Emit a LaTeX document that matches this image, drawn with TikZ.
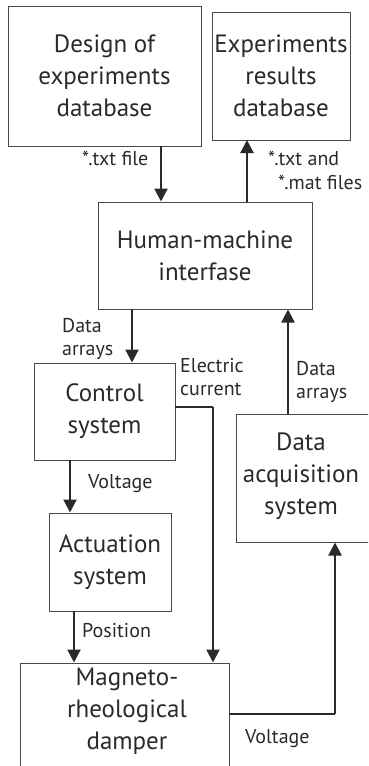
\documentclass[tikz,border=0pt]{standalone}
\usepackage{fontspec}
\setmainfont{PT Sans}
\usetikzlibrary{arrows.meta}
\definecolor{ink}{HTML}{2A2A2A}
\definecolor{edge}{HTML}{4A4A4A}
\begin{document}
\begin{tikzpicture}[x=1pt,y=-1pt,
  box/.style={draw=edge,line width=1pt,inner sep=0pt,text=ink,align=center,
     font=\fontsize{25}{32}\selectfont},
  boxtext/.style={inner sep=0pt,text=ink,align=center,font=\fontsize{25}{32}\selectfont},
  lab/.style={inner sep=0pt,text=ink,align=left,font=\fontsize{20}{23.5}\selectfont},
  arr/.style={draw=ink,line width=2.2pt,-{Triangle[width=13pt,length=13pt]}},
  wire/.style={draw=ink,line width=2.2pt}]
\useasboundingbox (0,0) rectangle (368,766);
\clip (0,0) rectangle (368,766);
% boxes
\node[box,minimum width=193pt,minimum height=140pt] (des) at (104.5,76) {Design of\\experiments\\database};
\node[box,minimum width=138pt,minimum height=128pt] (res) at (281,76) {Experiments\\results\\database};
\node[box,minimum width=214pt,minimum height=107pt] (hmi) at (205,255.5) {Human-machine\\interfase};
\node[box,minimum width=141pt,minimum height=97pt] (ctrl) at (104.5,411.5) {Control\\system};
\node[box,minimum width=160pt,minimum height=128pt] (daq) at (316,478) {};
\node[boxtext] (daqt) at (301,476) {Data\\acquisition\\system};
\node[box,minimum width=122pt,minimum height=98pt] (act) at (110,562) {Actuation\\system};
\node[box,minimum width=209pt,minimum height=140pt] (dmp) at (124.5,733) {};
\node[boxtext] (dmpt) at (127,711) {Magneto-\\rheological\\damper};
% connector anchors
\coordinate (c1) at (161,146);
\coordinate (c2) at (247,140);
\coordinate (c3) at (132,309);
\coordinate (c4) at (288,414);
\coordinate (c5) at (70,460);
\coordinate (c6) at (74,611);
\coordinate (e1) at (175,407);
\coordinate (e2) at (213,407);
\coordinate (v1) at (229,714);
\coordinate (v2) at (335,714);
% connectors
\draw[arr] (c1) -- (c1 |- hmi.north);
\draw[arr] (c2 |- hmi.north) -- (c2);
\draw[arr] (c3) -- (c3 |- ctrl.north);
\draw[arr] (c4) -- (c4 |- hmi.south);
\draw[arr] (c5) -- (c5 |- act.north);
\draw[arr] (c6) -- (c6 |- dmp.north);
\draw[wire] (e1) -- (e2);
\draw[arr] (e2) -- (e2 |- dmp.north);
\draw[wire] (v1) -- (v2);
\draw[arr] (v2) -- (v2 |- daq.south);
% labels
\node[lab,anchor=base west] (l1) at (82,165) {*.txt file};
\node[lab,anchor=base west] (l2a) at (268,165) {*.txt and};
\node[lab,anchor=base west] (l2b) at (278,189) {*.mat files};
\node[lab,anchor=base west] (l3a) at (62,332) {Data};
\node[lab,anchor=base west] (l3b) at (62,355) {arrays};
\node[lab,anchor=base west] (l4a) at (180,372) {Electric};
\node[lab,anchor=base west] (l4b) at (180,395) {current};
\node[lab,anchor=base west] (l5a) at (296,375) {Data};
\node[lab,anchor=base west] (l5b) at (296,398) {arrays};
\node[lab,anchor=base west] (l6) at (88,488) {Voltage};
\node[lab,anchor=base west] (l7) at (82,637) {Position};
\node[lab,anchor=base west] (l8) at (245,743) {Voltage};
\end{tikzpicture}
\end{document}
